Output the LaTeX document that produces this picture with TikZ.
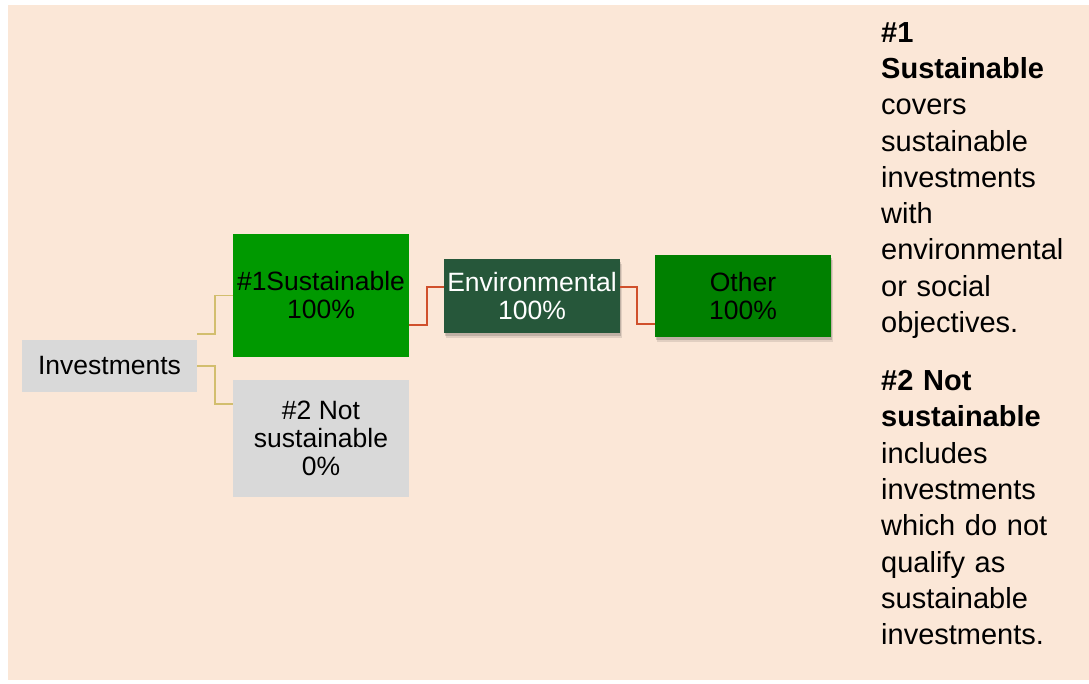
\documentclass[tikz,border=0pt]{standalone}
\usepackage{fontspec}
\setmainfont{Liberation Sans}
\usetikzlibrary{calc,shadows}
\definecolor{peach}{HTML}{FBE7D7}
\definecolor{boxgray}{HTML}{D9D9D9}
\definecolor{susgreen}{HTML}{009900}
\definecolor{envgreen}{HTML}{26573A}
\definecolor{othgreen}{HTML}{008000}
\definecolor{goldline}{HTML}{D2BE6E}
\definecolor{redline}{HTML}{D0502C}
\tikzset{
  box/.style={rectangle, inner sep=0pt, align=center, minimum width=176pt,
    font=\fontsize{26.5}{28}\selectfont},
  shad/.style={drop shadow={shadow xshift=2pt, shadow yshift=-5pt, opacity=0.10, fill=black},
               drop shadow={shadow xshift=1pt, shadow yshift=-3pt, opacity=0.15, fill=black}},
  goldconn/.style={draw=goldline, line width=1.8pt},
  redconn/.style={draw=redline, line width=1.8pt},
  note/.style={anchor=north west, inner sep=0pt, align=left, text width=210pt,
    font=\fontsize{29}{36.3}\selectfont}
}
\begin{document}
\begin{tikzpicture}[x=1pt,y=-1pt]
\useasboundingbox (0,0) rectangle (1089,683);
\fill[white] (0,0) rectangle (1089,683);
\fill[peach] (8,5) rectangle (1089,680);

\node[box, fill=boxgray, minimum width=175pt, minimum height=52pt] (inv) at (109.5,366) {Investments};
\node[box, fill=susgreen, minimum height=123pt] (s1) at (321,295.5) {\#1Sustainable\\100\%};
\node[box, fill=boxgray, minimum height=117pt] (s2) at (321,438.5) {\#2 Not\\sustainable\\0\%};
\node[box, shad, fill=envgreen, text=white, minimum height=74pt] (env) at (532,296) {Environmental\\100\%};
\node[box, shad, fill=othgreen, minimum height=82pt] (oth) at (743,296) {Other\\100\%};

\draw[goldconn] ($(inv.north east)+(0,-6)$) -- ++(18,0) |- (s1.west);
\draw[goldconn] (inv.east) -- ++(18,0) |- ($(s2.north west)+(0,24)$);
\draw[redconn] ($(s1.south east)+(0,-32)$) -- ++(18,0) |- ($(env.north west)+(0,28)$);
\draw[redconn] ($(env.north east)+(0,28)$) -- ++(17,0) |- ($(oth.south west)+(0,-13)$);

\node[note] (txt) at (881,22) {\textbf{\#1}\\\textbf{Sustainable}\\covers\\sustainable\\investments\\with\\environmental\\or social\\objectives.\\[21.7pt]\textbf{\#2 Not}\\\textbf{sustainable}\\includes\\investments\\which do not\\qualify as\\sustainable\\investments.};
\end{tikzpicture}
\end{document}
